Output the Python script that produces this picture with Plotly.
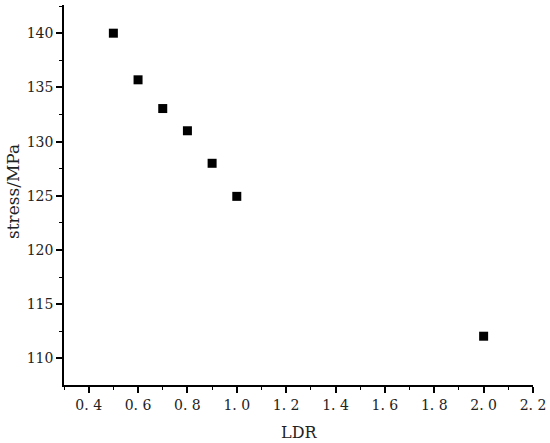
import plotly.graph_objects as go

ldr = [0.5, 0.6, 0.7, 0.8, 0.9, 1.0, 2.0]
stress = [140.0, 135.7, 133.05, 131.0, 128.0, 124.95, 112.05]

x_tickvals = [0.4, 0.6, 0.8, 1.0, 1.2, 1.4, 1.6, 1.8, 2.0, 2.2]
x_ticktext = ["0. 4", "0. 6", "0. 8", "1. 0", "1. 2", "1. 4", "1. 6", "1. 8", "2. 0", "2. 2"]
y_tickvals = [110, 115, 120, 125, 130, 135, 140]

font = "DejaVu Serif"

fig = go.Figure(go.Scatter(
    x=ldr, y=stress, mode="markers",
    marker=dict(symbol="square", size=9, color="black"),
    showlegend=False,
))

fig.update_layout(
    width=550, height=443,
    margin=dict(l=64, r=17, t=5, b=58),
    plot_bgcolor="white", paper_bgcolor="white",
    font=dict(family=font, size=13, color="#222"),
    annotations=[
        dict(text="LDR", xref="paper", yref="paper", x=0.501, y=0, yshift=-47,
             showarrow=False, xanchor="center", yanchor="middle",
             font=dict(family=font, size=16, color="#222")),
        dict(text="stress/MPa", xref="paper", yref="paper", x=0, y=0.508, xshift=-51,
             showarrow=False, xanchor="center", yanchor="middle", textangle=-90,
             font=dict(family=font, size=17, color="#222")),
    ],
)
fig.update_xaxes(
    range=[0.3, 2.2], tickvals=x_tickvals, ticktext=x_ticktext, automargin=False,
    showgrid=False, zeroline=False, showline=True, linecolor="black", linewidth=1.5,
    ticks="outside", ticklen=6, tickwidth=1.5, tickcolor="black",
    minor=dict(dtick=0.1, tick0=0.3, ticks="outside", ticklen=3, tickwidth=1.2, tickcolor="black"),
    tickfont=dict(family=font, size=14),
)
fig.update_yaxes(
    range=[107.55, 142.6], tickvals=y_tickvals, automargin=False,
    showgrid=False, zeroline=False, showline=True, linecolor="black", linewidth=1.5,
    ticks="outside", ticklen=6, tickwidth=1.5, tickcolor="black",
    minor=dict(dtick=2.5, tick0=107.5, ticks="outside", ticklen=3, tickwidth=1.2, tickcolor="black"),
    tickfont=dict(family=font, size=14),
)

fig.write_html("out.html", config={"displayModeBar": False},
               post_script="document.body.style.margin='0';")
